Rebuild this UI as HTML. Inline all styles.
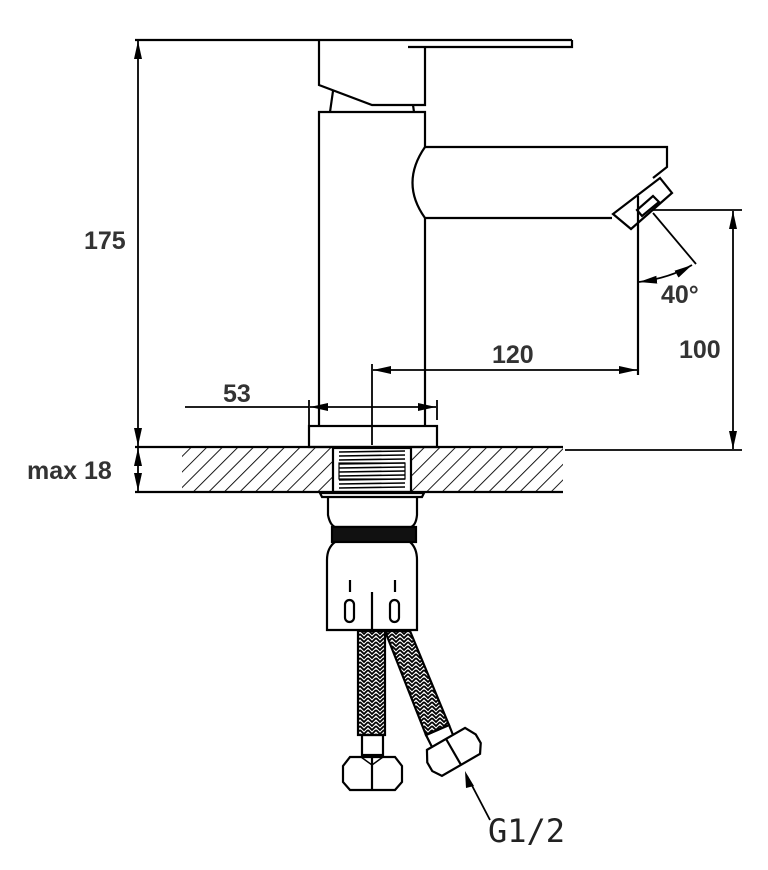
<!DOCTYPE html>
<html><head><meta charset="utf-8"><style>
html,body{margin:0;padding:0;background:#fff}
svg{display:block}
.t{font-family:"Liberation Sans",sans-serif;font-weight:bold;fill:#333}
</style></head><body>
<svg width="768" height="870" viewBox="0 0 768 870" xmlns="http://www.w3.org/2000/svg">
<defs>
<pattern id="h" width="11" height="11" patternUnits="userSpaceOnUse" patternTransform="rotate(45)">
<line x1="0" y1="0" x2="0" y2="11" stroke="#000" stroke-width="1.8"/>
</pattern>
<pattern id="br" width="8" height="8" patternUnits="userSpaceOnUse">
<rect width="8" height="8" fill="#fff"/>
<path d="M0 2 L4 6 L8 2 M0 6 L4 10 L8 6 M0 -2 L4 2 L8 -2" stroke="#000" stroke-width="1.8" fill="none"/>
</pattern>
<marker id="a" viewBox="0 0 18 8" refX="18" refY="4" markerWidth="18" markerHeight="8" orient="auto-start-reverse" markerUnits="userSpaceOnUse">
<path d="M0 0 L18 4 L0 8z" fill="#000"/>
</marker>
</defs>
<g fill="none" stroke="#000" stroke-width="2.2">
<line x1="135" y1="40" x2="572" y2="40"/>
<path d="M408 47 H572 V40"/>
<path d="M319 40 V85 L372 105 H425 V47"/>
<line x1="333" y1="91" x2="330" y2="112"/>
<line x1="413" y1="105" x2="414" y2="112"/>
<path d="M319 426 V112 H425 V147"/>
<path d="M425 218 V426"/>
<path d="M425 147 H667 V167 L653 178"/>
<path d="M425 147 Q400 183 425 218 H612"/>
<polygon points="613,214 631,229 672,193 660,178"/>
<polygon points="637,210 642,216 659,202 653,196"/>
<line x1="638" y1="196" x2="638" y2="375"/>
<line x1="653" y1="213" x2="696" y2="264" stroke-width="1.8"/>
<path d="M639 282 Q670 278 692 265" marker-start="url(#a)" marker-end="url(#a)" stroke-width="1.8"/>
<line x1="653" y1="210" x2="742" y2="210" stroke-width="1.8"/>
<line x1="733" y1="211" x2="733" y2="449" marker-start="url(#a)" marker-end="url(#a)" stroke-width="1.8"/>
<line x1="565" y1="450" x2="742" y2="450" stroke-width="1.8"/>
<line x1="373" y1="370" x2="637" y2="370" marker-start="url(#a)" marker-end="url(#a)" stroke-width="1.8"/>
<line x1="372" y1="364" x2="372" y2="445" stroke-width="1.8"/>
<line x1="185" y1="407" x2="309" y2="407" stroke-width="1.8"/>
<line x1="310" y1="407" x2="436" y2="407" marker-start="url(#a)" marker-end="url(#a)" stroke-width="1.8"/>
<line x1="309" y1="400" x2="309" y2="426" stroke-width="1.8"/>
<line x1="437" y1="400" x2="437" y2="420" stroke-width="1.8"/>
<rect x="309" y="426" width="128" height="21"/>
<rect x="182" y="448" width="381" height="44" fill="url(#h)" stroke="none"/>
<rect x="333" y="448" width="78" height="44" fill="#fff" stroke="#000"/>
<line x1="135" y1="447" x2="563" y2="447"/>
<line x1="135" y1="492" x2="563" y2="492"/>
<g stroke-width="1.6">
<line x1="339" y1="452" x2="405" y2="451"/><line x1="339" y1="456" x2="405" y2="455"/>
<line x1="339" y1="460" x2="405" y2="459"/><line x1="339" y1="464" x2="405" y2="463"/>
<line x1="339" y1="468" x2="405" y2="467"/><line x1="339" y1="472" x2="405" y2="471"/>
<line x1="339" y1="476" x2="405" y2="475"/><line x1="339" y1="480" x2="405" y2="479"/>
<line x1="339" y1="484" x2="405" y2="483"/><line x1="339" y1="488" x2="405" y2="487"/>
<rect x="339" y="463" width="66" height="16" stroke-width="1.2"/>
</g>
<line x1="138" y1="41" x2="138" y2="446" marker-start="url(#a)" marker-end="url(#a)" stroke-width="1.8"/>
<line x1="138" y1="448" x2="138" y2="491" marker-start="url(#a)" marker-end="url(#a)" stroke-width="1.8"/>
<path d="M320 493 H424 L422 497 H322z"/>
<path d="M328 497 V515 Q330 525 335 527 H411 Q416 525 417 515 V497"/>
<rect x="332" y="527" width="84" height="15" fill="#111"/>
<path d="M335 542 Q327 548 327 560 V630 H417 V560 Q417 548 410 542"/>
<line x1="372" y1="592" x2="372" y2="630"/>
<line x1="350" y1="580" x2="350" y2="592"/>
<line x1="395" y1="580" x2="395" y2="592"/>
<rect x="345" y="600" width="9" height="22" rx="4.5"/>
<rect x="390" y="600" width="9" height="22" rx="4.5"/>
<rect x="358" y="631" width="27" height="104" fill="url(#br)"/>
<rect x="362" y="735" width="21" height="20"/>
<path d="M350 757 H395 L402 766 V782 L395 790 H350 L343 782 V766z"/>
<line x1="372" y1="757" x2="372" y2="790"/>
<path d="M361 757 L372 765 L383 757" stroke-width="1.5"/>
<polygon points="385,631 410,631 449,725 426,735" fill="url(#br)"/>
<polygon points="426,735 449,725 455,740 433,749"/>
<g transform="translate(453,751) rotate(-30)">
<path d="M-22 -14 H22 L28 -3 V7 L22 16 H-22 L-28 7 V-3z" fill="#fff"/>
<line x1="0" y1="-14" x2="0" y2="16"/>
</g>
<line x1="467" y1="776" x2="490" y2="820" stroke-width="1.8"/>
<path d="M465 771 L474 786 L466 788z" fill="#000" stroke="none"/>
</g>
<text class="t" x="84" y="249" font-size="25">175</text>
<text class="t" x="27" y="479" font-size="25">max 18</text>
<text class="t" x="223" y="402" font-size="25">53</text>
<text class="t" x="492" y="363" font-size="25">120</text>
<text class="t" x="679" y="358" font-size="25">100</text>
<text class="t" x="661" y="303" font-size="25">40°</text>
<text x="488" y="842" font-family="DejaVu Sans Mono,monospace" font-size="32" fill="#222">G1/2</text>
</svg>
</body></html>
